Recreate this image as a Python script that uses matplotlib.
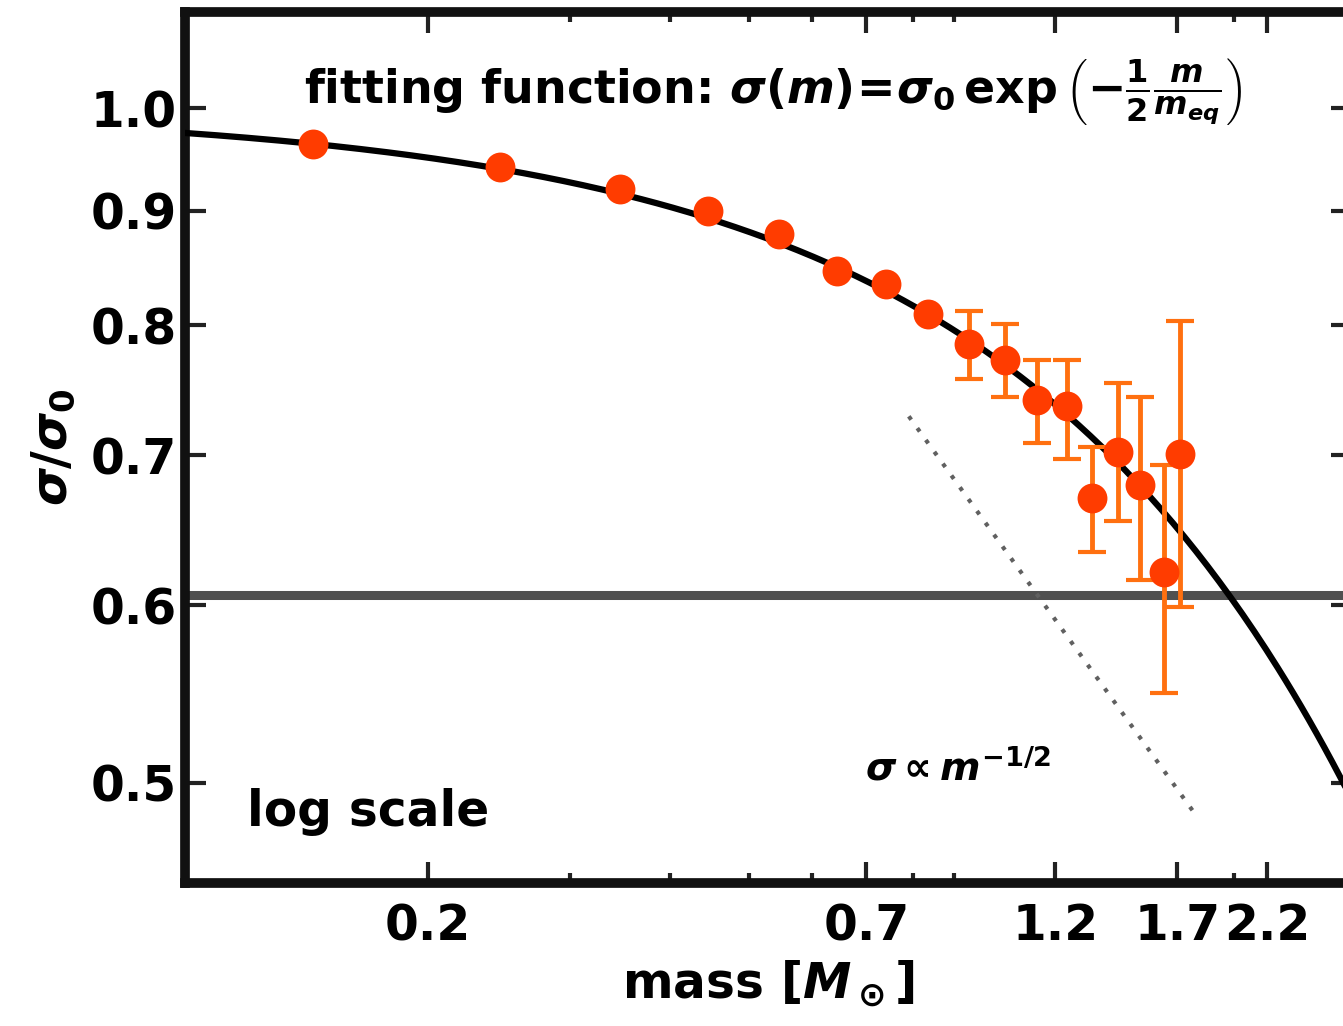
import numpy as np
import matplotlib
matplotlib.use("Agg")
import matplotlib.pyplot as plt
from matplotlib.ticker import FixedLocator, NullFormatter

plt.rcParams['font.family'] = ['DejaVu Sans']
plt.rcParams['font.weight'] = 'bold'
plt.rcParams['axes.labelweight'] = 'bold'
plt.rcParams['mathtext.fontset'] = 'custom'
plt.rcParams['mathtext.rm'] = 'DejaVu Sans:bold'
plt.rcParams['mathtext.it'] = 'DejaVu Sans:italic:bold'
plt.rcParams['mathtext.bf'] = 'DejaVu Sans:bold'

# measured points (mass in M_sun, sigma/sigma_0)
mass = [0.144, 0.246, 0.346, 0.445, 0.546, 0.643, 0.741, 0.834, 0.937,
        1.039, 1.138, 1.241, 1.332, 1.435, 1.528, 1.637, 1.714]
sigma = [0.964, 0.941, 0.920, 0.900, 0.879, 0.846, 0.835, 0.809, 0.785,
         0.772, 0.741, 0.736, 0.670, 0.702, 0.679, 0.621, 0.701]
# error bar ends (only the heavier bins have visible bars)
err_mass = [0.937, 1.039, 1.138, 1.241, 1.332, 1.435, 1.528, 1.637, 1.714]
err_sigma = [0.785, 0.772, 0.741, 0.736, 0.670, 0.702, 0.679, 0.621, 0.701]
err_top = [0.812, 0.801, 0.772, 0.772, 0.706, 0.754, 0.743, 0.693, 0.804]
err_bot = [0.757, 0.743, 0.709, 0.697, 0.634, 0.654, 0.616, 0.548, 0.599]

# fit parameters
sigma0 = 1.0
m_eq = 1.97
# sigma ~ m^-1/2 guide line
pl_mass = [0.79, 1.78]
pl_norm = 0.6476

xmajor = [0.2, 0.7, 1.2, 1.7, 2.2]
xminor = [0.3, 0.4, 0.5, 0.6, 0.8, 0.9, 2.0]
yticks = [0.5, 0.6, 0.7, 0.8, 0.9, 1.0]

fig = plt.figure(figsize=(13.43, 10.26), dpi=100)
ax = fig.add_axes([0.1378, 0.1394, 0.8688, 0.8489])
ax.set_xscale('log')
ax.set_yscale('log')
ax.set_xlim(0.1, 2.8)
ax.set_ylim(0.451, 1.104)

ax.axhline(np.exp(-0.5), color='#505050', lw=6.5, zorder=1)

pl_m = np.array(pl_mass)
ax.plot(pl_m, pl_norm * pl_m ** -0.5, color='#606060', lw=3,
        linestyle=(0, (1, 2.5)), zorder=2)

mm = np.geomspace(0.1, 2.8, 300)
ax.plot(mm, sigma0 * np.exp(-0.5 * mm / m_eq), color='black', lw=4.5, zorder=3)

es = np.array(err_sigma)
yerr = [es - np.array(err_bot), np.array(err_top) - es]
ax.errorbar(err_mass, err_sigma, yerr=yerr, fmt='none', ecolor='#ff7010',
            elinewidth=3.5, capsize=10, capthick=3, zorder=4)
ax.plot(mass, sigma, 'o', color='#ff3c00', ms=21.5, mew=0, zorder=5)

ax.xaxis.set_major_locator(FixedLocator(xmajor))
ax.xaxis.set_minor_locator(FixedLocator(xminor))
ax.set_xticklabels([str(v) for v in xmajor])
ax.xaxis.set_minor_formatter(NullFormatter())
ax.yaxis.set_major_locator(FixedLocator(yticks))
ax.yaxis.set_minor_locator(FixedLocator([]))
ax.set_yticklabels(['%.1f' % v for v in yticks])

ax.tick_params(which='both', direction='in', top=True, right=True,
               labelsize=35, width=3, color='#222222')
ax.tick_params(which='major', length=15)
ax.tick_params(which='minor', length=7)
ax.tick_params(axis='x', pad=14)
ax.tick_params(axis='y', pad=6)
for s in ax.spines.values():
    s.set_linewidth(7)
    s.set_color('#111111')

ax.set_xlabel(r'mass [$M_\odot$]', fontsize=35, fontweight='bold', labelpad=6)
ax.set_ylabel(r'$\sigma/\sigma_0$', fontsize=35, labelpad=10)

ax.text(0.1406, 1.005,
        r'fitting function: $\sigma(m)\!=\!\sigma_0\,\exp\left(-\frac{1}{2}\frac{m}{m_{eq}}\right)$',
        fontsize=33, va='baseline', ha='left')
ax.text(0.1195, 0.478, 'log scale', fontsize=35, va='baseline', ha='left')
ax.text(0.698, 0.501, r'$\sigma\propto m^{-1/2}$', fontsize=28,
        va='baseline', ha='left')

fig.savefig('out.png', dpi=100)
